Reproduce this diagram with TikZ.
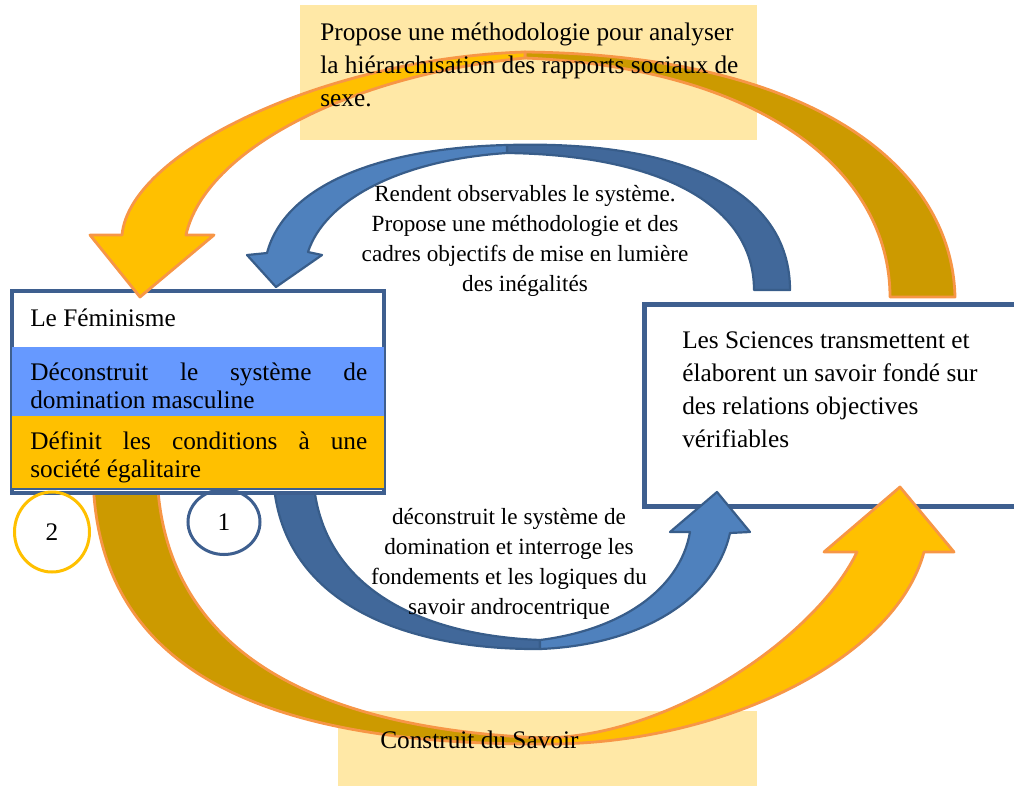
\documentclass[tikz,border=0pt]{standalone}
\usepackage{fontspec}
\setmainfont{Liberation Serif}
\usetikzlibrary{shapes.geometric}
\definecolor{paleyellow}{HTML}{FFE8A6}
\definecolor{yellowfill}{HTML}{FFC000}
\definecolor{yellowdark}{HTML}{CC9A00}
\definecolor{orangeline}{HTML}{F79646}
\definecolor{bluefill}{HTML}{4F81BD}
\definecolor{bluedark}{HTML}{41689A}
\definecolor{blueline}{HTML}{385D8A}
\definecolor{boxblue}{HTML}{3E5F8F}
\definecolor{feminblue}{HTML}{6699FF}
\tikzset{
	yellowback/.style={fill=yellowdark, draw=orangeline, line width=0.7mm, line join=round},
	yellowfront/.style={fill=yellowfill, draw=orangeline, line width=0.7mm, line join=round},
	blueback/.style={fill=bluedark, draw=blueline, line width=0.55mm, line join=round},
	bluefront/.style={fill=bluefill, draw=blueline, line width=0.55mm, line join=round},
	bigtext/.style={inner sep=0pt, font=\fontsize{18}{23.5}\selectfont},
	smalltext/.style={inner sep=0pt, align=center, font=\fontsize{16.5}{21.2}\selectfont},
	boxtext/.style={inner sep=0pt, text width=84.25mm, align=justify,
		font=\fontsize{18}{20}\selectfont,
		execute at begin node={\hyphenpenalty=10000\relax\tolerance=10000\relax}}
}
\begin{document}
\begin{tikzpicture}[x=0.25mm,y=-0.25mm]
		\useasboundingbox (0,0) rectangle (1014,785);
		\fill[paleyellow] (300,5) rectangle (757,140);
		\fill[paleyellow] (338,711) rectangle (757,790);

		\node (sciences) [draw=boxblue, fill=white, line width=1.25mm, minimum width=96mm, minimum height=50.5mm, anchor=north west] at (642,302) {};

		\draw[yellowback] (93,470) .. controls (93,680) and (280,745) .. (545,744) -- (545,738) .. controls (330,730) and (160,660) .. (157,470) -- cycle;
		\draw[blueback] (273,470) .. controls (275,600) and (400,650) .. (540,649) -- (540,640) .. controls (410,635) and (315,580) .. (313,470) -- cycle;

		\node (feminisme) [draw=boxblue, fill=white, line width=1mm, minimum width=93mm, minimum height=50.5mm, anchor=north west] at (10,289) {};
		\fill[feminblue] (12,347) rectangle (384,416);
		\fill[yellowfill] (12,416) rectangle (384,488);
		\draw[boxblue, line width=0.5mm] (10,489) -- (384,489);

		\draw[yellowback] (955,297) .. controls (952,165) and (810,55) .. (525,52) -- (525,58) .. controls (760,68) and (890,170) .. (890,297) -- cycle;
		\draw[yellowfront] (525,52) .. controls (330,58) and (130,150) .. (122,235) -- (90,235) -- (140,297) -- (214,235) -- (186,235) .. controls (205,150) and (350,75) .. (525,58) -- cycle;
		\draw[yellowfront] (545,738) .. controls (680,735) and (820,630) .. (857,552) -- (824,552) -- (900,487) -- (954,552) -- (924,552) .. controls (895,660) and (720,745) .. (545,744) -- cycle;

		\draw[blueback] (790,290) .. controls (790,190) and (680,140) .. (507,145) -- (507,153) .. controls (660,155) and (754,205) .. (754,290) -- cycle;
		\draw[bluefront] (507,145) .. controls (380,148) and (285,185) .. (267,253) -- (247,255) -- (276,287) -- (322,255) -- (308,252) .. controls (325,200) and (400,160) .. (507,153) -- cycle;
		\draw[bluefront] (540,640) .. controls (620,630) and (680,590) .. (690,532) -- (670,532) -- (717,492) -- (750,532) -- (730,533) .. controls (715,600) and (640,645) .. (540,649) -- cycle;

		\foreach \k/\x/\y/\col/\w/\h in {2/52/532/yellowfill/18.75/20, 1/224/522/boxblue/18/16.25}{
			\node (cercle\k) [draw=\col, line width=0.75mm, ellipse, minimum width=\w mm, minimum height=\h mm, font=\fontsize{18}{20}\selectfont] at (\x,\y) {\k};
			}

		\node (methodo) [bigtext, anchor=west, align=left] at (320,65) {Propose une méthodologie pour analyser\\la hiérarchisation des rapports sociaux de\\sexe.};
		\node (savoir) [bigtext, anchor=west] at (380,740) {Construit du Savoir};
		\node (transmettent) [bigtext, anchor=west, align=left] at (682,390) {Les Sciences transmettent et\\élaborent un savoir fondé sur\\des relations objectives\\vérifiables};
		\node (titre) [bigtext, anchor=west] at (30,318) {Le Féminisme};
		\node (domination) [boxtext, anchor=west] at (30,386) {Déconstruit le système de domination masculine};
		\node (conditions) [boxtext, anchor=west] at (30,457) {Définit les conditions à une société égalitaire};
		\node (observables) [smalltext] at (525,241) {Rendent observables le système.\\Propose une méthodologie et des\\cadres objectifs de mise en lumière\\des inégalités};
		\node (androcentrique) [smalltext] at (509,564) {déconstruit le système de\\domination et interroge les\\fondements et les logiques du\\savoir androcentrique};
	\end{tikzpicture}
\end{document}
